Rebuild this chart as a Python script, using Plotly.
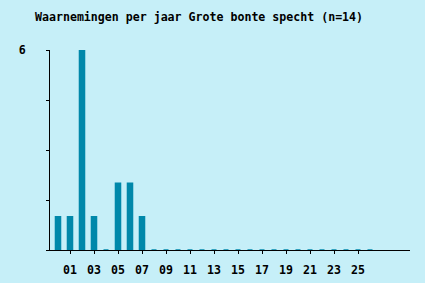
import plotly.graph_objects as go

years = list(range(0, 27))
counts = [1, 1, 6, 1, 0, 2, 2, 1] + [0] * 19
tick_years = list(range(1, 26, 2))
tick_labels = [f"{y:02d}" for y in tick_years]
title = "Waarnemingen per jaar Grote bonte specht (n=14)"

BG = "#c6eff8"
BAR = "#0088aa"
FONT = "DejaVu Sans Mono"

fig = go.Figure(go.Bar(
    x=years, y=counts, width=0.42,
    marker=dict(color=BAR, line=dict(color=BAR, width=1.5)),
))
fig.update_layout(
    width=425, height=283,
    paper_bgcolor=BG, plot_bgcolor=BG,
    margin=dict(l=50, r=15, t=50, b=33, autoexpand=False),
    showlegend=False,
    title=dict(text="<b>" + title + "</b>", x=35/425, xanchor="left",
               y=1 - 17/283, yanchor="middle",
               font=dict(family=FONT, size=11.6, color="black")),
    font=dict(family=FONT, size=11.6, color="black"),
)
fig.update_xaxes(range=[-0.667, 29.333], tickmode="array", tickvals=tick_years,
                 ticktext=["<b>" + t + "</b>" for t in tick_labels],
                 showline=True, linecolor="black", linewidth=1,
                 ticks="outside", ticklen=3, tickcolor="black", automargin=False,
                 showgrid=False, zeroline=False, ticklabelstandoff=6)
fig.update_yaxes(range=[0, 6], tickmode="array", tickvals=[0, 1.5, 3, 4.5, 6],
                 ticktext=["", "", "", "", "<b>6</b>"],
                 showline=True, linecolor="black", linewidth=1,
                 ticks="outside", ticklen=3, tickcolor="black", automargin=False,
                 showgrid=False, zeroline=False, ticklabelstandoff=18)
fig.write_html("out.html")
